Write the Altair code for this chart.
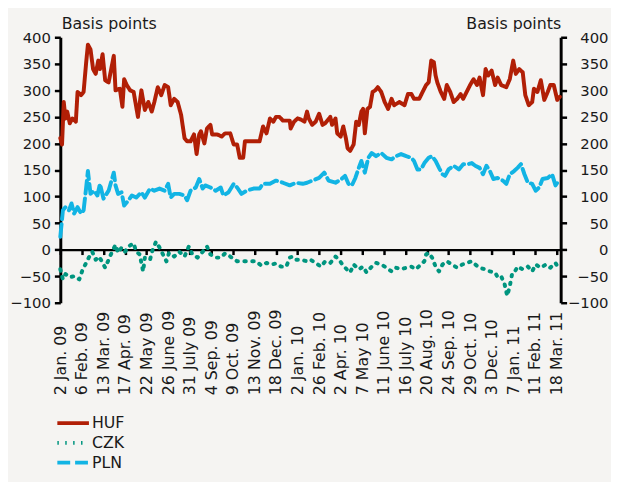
import json
import altair as alt
import pandas as pd

# ---- data (business-day index from 2 Jan. 2009, spread in basis points) ----
huf_day = [0,2,4,6,8,11,14,18,20,24,27,30,32,35,38,41,44,46,49,52,56,62,64,69,72,74,77,81,85,90,
           94,98,102,106,109,113,117,121,125,128,132,136,140,144,147,151,155,158,161,163,167,170,174,176,182,187,191,197,201,205,
           208,212,214,220,231,235,239,243,247,250,254,258,266,267,271,275,279,283,286,288,292,296,300,304,307,313,315,319,321,325,
           328,331,333,336,340,343,346,349,351,353,356,359,362,365,368,372,376,380,384,387,393,399,403,407,410,416,420,424,427,430,
           433,435,437,441,445,448,452,456,460,464,467,471,475,479,483,486,490,493,496,500,504,507,511,517,521,525,528,532,536,539,
           543,547,549,553,557,561,565,568,572,576,579]
huf_bp = [210,198,278,247,260,238,247,241,297,291,297,353,386,377,340,331,356,340,368,319,315,365,300,303,269,321,310,300,297,250,
          300,263,278,260,278,306,291,310,306,272,284,278,254,210,204,204,217,180,217,223,200,228,235,217,217,213,219,219,198,198,
          173,173,204,204,204,232,219,247,241,250,250,243,243,228,241,247,245,241,260,247,235,241,256,235,238,250,235,247,219,213,
          232,210,191,186,198,241,235,260,265,219,265,269,297,300,306,297,278,265,284,272,278,272,293,293,284,284,297,310,315,356,
          353,328,315,297,284,310,297,278,284,293,284,297,310,321,310,324,291,340,328,337,310,324,310,306,321,356,331,340,334,291,
          272,278,303,297,319,282,297,310,310,282,288]

czk_day = [0,3,6,11,16,22,26,30,33,37,41,45,48,52,56,60,64,67,71,75,79,85,88,92,96,98,104,107,111,115,
           119,123,126,132,138,144,149,153,159,165,170,174,180,186,191,197,205,212,220,227,233,239,245,250,256,262,266,269,273,279,
           286,290,296,302,307,313,319,323,327,332,336,340,346,351,355,361,366,372,378,384,389,395,401,407,412,418,422,424,427,431,
           435,439,443,448,454,460,466,471,477,481,486,492,498,504,507,511,515,518,521,524,527,530,536,542,547,551,557,563,568,574,
           578]
czk_bp = [-37,-56,-46,-52,-50,-56,-37,-25,-15,-4,-19,-13,-22,-34,-19,-4,9,-6,4,-4,6,12,-4,-9,-41,-15,-19,0,15,4,
          -9,-22,-6,-13,-4,-13,6,-9,-15,-4,6,-9,-15,-15,-7,-13,-22,-22,-22,-22,-30,-25,-28,-26,-32,-32,-15,-13,-19,-19,
          -22,-19,-25,-32,-22,-25,-13,-19,-28,-37,-43,-28,-37,-32,-43,-32,-25,-28,-34,-41,-34,-37,-34,-32,-37,-28,-22,-9,-6,-15,
          -32,-41,-28,-22,-28,-34,-28,-25,-22,-28,-34,-37,-41,-43,-52,-50,-65,-87,-69,-43,-41,-32,-37,-32,-41,-28,-34,-28,-34,-25,
          -37]

pln_day = [0,3,6,10,13,16,20,24,27,30,32,35,39,43,46,50,56,62,64,67,71,74,79,83,88,94,98,104,109,115,
           121,125,128,132,138,144,147,151,157,161,165,168,174,180,186,189,195,201,205,210,216,224,231,235,243,250,258,266,273,281,
           286,292,300,306,311,319,326,330,334,338,342,346,349,353,357,361,366,372,378,384,389,395,401,407,410,414,418,422,427,431,
           435,439,443,446,450,456,462,467,473,477,481,486,490,494,498,502,507,513,517,521,526,530,534,538,542,547,551,555,559,565,
           570,574,578]
pln_bp = [24,74,80,74,87,68,80,68,74,117,148,105,111,102,124,96,111,145,121,105,108,83,93,102,98,108,98,115,111,115,
          111,124,98,105,105,102,93,111,117,133,115,121,117,111,117,102,108,124,117,105,111,115,115,124,124,130,126,121,126,124,
          126,130,135,145,130,126,133,139,124,121,135,154,167,145,173,182,176,182,173,170,176,180,176,173,167,151,151,163,173,176,
          167,154,142,139,151,158,151,161,161,163,158,154,142,158,148,133,135,130,124,142,148,154,161,142,126,124,111,117,133,135,
          142,121,130]

series_names = ["HUF", "CZK", "PLN"]
series_colors = ["#b11f06", "#00957f", "#12b4e4"]
series_dash = [[1, 0], [1.5, 6.5], [13, 5]]

x_tick_labels = ["2 Jan. 09", "6 Feb. 09", "13 Mar. 09", "17 Apr. 09", "22 May 09", "26 June 09",
                 "31 July 09", "4 Sep. 09", "9 Oct. 09", "13 Nov. 09", "18 Dec. 09", "2 Jan. 10",
                 "26 Feb. 10", "2 Apr. 10", "7 May 10", "11 June 10", "16 July 10", "20 Aug. 10",
                 "24 Sep. 10", "29 Oct. 10", "3 Dec. 10", "7 Jan. 11", "11 Feb. 11", "18 Mar. 11"]
x_tick_values = [i * 25 for i in range(len(x_tick_labels))]
y_ticks = [-100, -50, 0, 50, 100, 150, 200, 250, 300, 350, 400]

df = pd.concat([
    pd.DataFrame({"series": "HUF", "day": huf_day, "bp": huf_bp}),
    pd.DataFrame({"series": "CZK", "day": czk_day, "bp": czk_bp}),
    pd.DataFrame({"series": "PLN", "day": pln_day, "bp": pln_bp}),
], ignore_index=True)

FONT = "DejaVu Sans"
TXT = "#1a1a1a"
W, H = 507, 269
y_scale = alt.Scale(domain=[-100, 400], nice=False, zero=False)
x_scale = alt.Scale(domain=[0, 580], nice=False, zero=False)
zero_offset = -H * 100 / 500

label_expr = json.dumps(x_tick_labels) + "[round(datum.value / 25)]"

x_axis = alt.Axis(
    values=x_tick_values, labelExpr=label_expr, title=None, orient="bottom",
    offset=zero_offset, domainColor="black", domainWidth=2.5,
    tickColor="black", tickWidth=2.5, tickSize=5,
    labelAngle=270, labelAlign="left", labelBaseline="middle",
    labelPadding=142, labelFlush=False, labelOverlap=False,
    labelFont=FONT, labelFontSize=16, labelColor=TXT, grid=False,
)

left_axis = alt.Axis(
    values=y_ticks, orient="left", title="Basis points", titleAngle=0, titleAlign="left",
    titleBaseline="alphabetic", titleX=1, titleY=-9, titleFont=FONT,
    titleFontSize=16, titleFontWeight="normal", titleColor=TXT,
    domainColor="black", domainWidth=3, tickColor="black", tickWidth=2.5,
    tickSize=6, labelPadding=4, labelFont=FONT, labelFontSize=15,
    labelColor=TXT, grid=False,
)
right_axis = alt.Axis(
    values=y_ticks, orient="right", title="Basis points", titleAngle=0,
    titleAlign="right", titleBaseline="alphabetic", titleX=0, titleY=-9,
    titleFont=FONT, titleFontSize=16, titleFontWeight="normal", titleColor=TXT,
    domainColor="black", domainWidth=3, tickColor="black", tickWidth=2.5,
    tickSize=6, labelAlign="right", labelPadding=42, labelFont=FONT,
    labelFontSize=15, labelColor=TXT, grid=False,
)

legend = alt.Legend(
    title=None, orient="none", legendX=3, legendY=381, direction="vertical",
    symbolType="M-2,0H2", symbolSize=256, symbolStrokeWidth=4,
    labelFont=FONT, labelFontSize=16, labelColor=TXT, labelOffset=9,
    rowPadding=2, padding=0,
)

lines = alt.Chart(df).mark_line(strokeWidth=4, strokeCap="round", strokeJoin="round").encode(
    x=alt.X("day:Q", scale=x_scale, axis=x_axis),
    y=alt.Y("bp:Q", scale=y_scale, axis=left_axis),
    color=alt.Color("series:N", scale=alt.Scale(domain=series_names, range=series_colors), legend=legend),
    strokeDash=alt.StrokeDash("series:N", scale=alt.Scale(domain=series_names, range=series_dash), legend=legend),
)

right = alt.Chart(df).mark_point(opacity=0).encode(
    x=alt.X("day:Q", scale=x_scale, axis=x_axis),
    y=alt.Y("bp:Q", scale=y_scale, axis=right_axis),
)

chart = alt.layer(lines, right).resolve_scale(y="independent").properties(
    width=W, height=H,
    autosize=alt.AutoSizeParams(type="none"),
    padding={"left": 53, "top": 26.5, "right": 51, "bottom": 178},
    background="#f5f4f2",
).configure_view(stroke=None)

chart.save("out.html", embed_options={"renderer": "svg", "actions": False})
